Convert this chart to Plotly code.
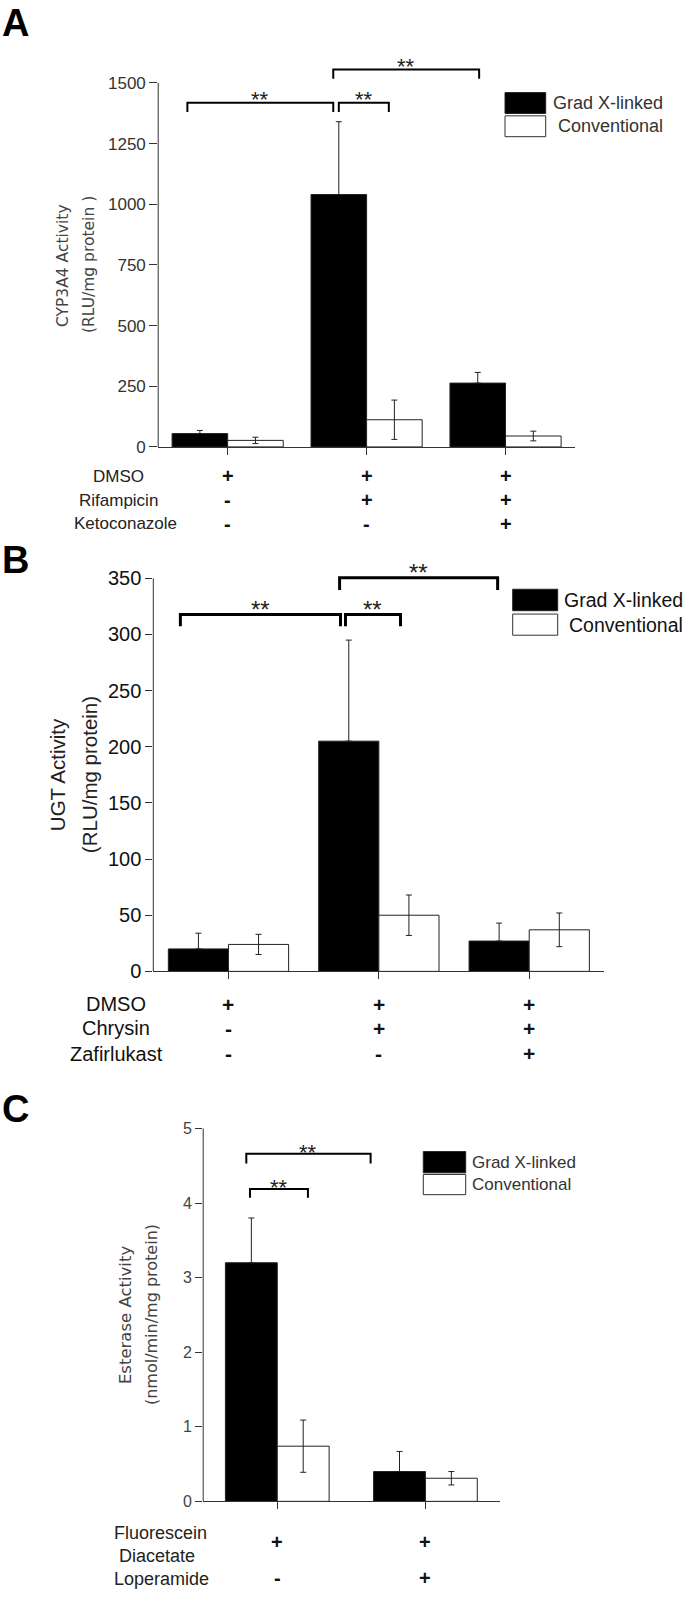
import plotly.graph_objects as go

W, H = 685, 1601

# ---------------- data ----------------
series_names = ["Grad X-linked", "Conventional"]

a_groups = [0, 1, 2]
a_grad = [55, 1040, 263]
a_grad_err = [13, 300, 44]
a_conv = [27, 112, 45]
a_conv_err = [13, 81, 20]
a_ticks = [0, 250, 500, 750, 1000, 1250, 1500]
a_rows = ["DMSO", "Rifampicin", "Ketoconazole"]
a_marks = [["+", "+", "+"], ["-", "+", "+"], ["-", "-", "+"]]

b_groups = [0, 1, 2]
b_grad = [20, 205, 27]
b_grad_err = [14, 90, 16]
b_conv = [24, 50, 37]
b_conv_err = [9, 18, 15]
b_ticks = [0, 50, 100, 150, 200, 250, 300, 350]
b_rows = ["DMSO", "Chrysin", "Zafirlukast"]
b_marks = [["+", "+", "+"], ["-", "+", "+"], ["-", "-", "+"]]

c_groups = [0, 1]
c_grad = [3.2, 0.40]
c_grad_err = [0.6, 0.27]
c_conv = [0.74, 0.31]
c_conv_err = [0.35, 0.09]
c_ticks = [0, 1, 2, 3, 4, 5]
c_rows = ["Fluorescein", "Diacetate", "Loperamide"]
c_marks = [["+", "+"], ["-", "+"]]

# significance brackets: (x_left, x_right, y_top, y_leg) in data units
a_brackets = [(-0.29, 0.76, 1418, 1380), (0.80, 1.16, 1418, 1380), (0.76, 1.81, 1555, 1517)]
b_brackets = [(-0.32, 0.745, 317.7, 307.3), (0.778, 1.144, 317.7, 307.3), (0.739, 1.79, 350.6, 339.7)]
c_brackets = [(-0.209, 0.63, 4.66, 4.53), (-0.184, 0.207, 4.19, 4.07)]

FONT = "Arial, 'Liberation Sans', sans-serif"
LIGHT = "'DejaVu Sans', sans-serif"

fig = go.Figure()
shapes = []
annotations = []


def px(x):
    return x / W


def py(y):
    return 1 - y / H


def add_panel(n, groups, grad, gerr, conv, cerr, bw, ticks, ymax_axis, yrange,
              xpix, ypix, tickfont, tickcolor, ticklen, brackets, bracket_w, star_size, star_shift):
    xa = "x" if n == 1 else f"x{n}"
    ya = "y" if n == 1 else f"y{n}"
    zeros = [0] * len(groups)
    for vals, errs, errm, fill, off, name in [(grad, gerr, zeros, "black", -bw, series_names[0]),
                                              (conv, cerr, cerr, "white", 0.0, series_names[1])]:
        fig.add_trace(go.Bar(
            x=groups, y=vals, width=bw, offset=off, name=name, showlegend=False,
            marker=dict(color=fill, line=dict(color="#222", width=1)),
            error_y=dict(type="data", array=errs, arrayminus=errm, symmetric=False, visible=True,
                         color="#222", thickness=1, width=3),
            xaxis=xa, yaxis=ya, hoverinfo="skip"))
    for (x0, x1, yt, yl) in brackets:
        fig.add_trace(go.Scatter(x=[x0, x0, x1, x1], y=[yl, yt, yt, yl], mode="lines",
                                 line=dict(color="black", width=bracket_w), showlegend=False,
                                 xaxis=xa, yaxis=ya, hoverinfo="skip"))
        annotations.append(dict(x=(x0 + x1) / 2, y=yt, xref=xa, yref=ya, text="**", showarrow=False,
                                font=dict(family=FONT, size=star_size, color="#222"),
                                xanchor="center", yanchor="middle", yshift=star_shift))
    nx = len(groups)
    xkey = "xaxis" if n == 1 else f"xaxis{n}"
    ykey = "yaxis" if n == 1 else f"yaxis{n}"
    fig.update_layout(**{
        xkey: dict(domain=[px(xpix[0]), px(xpix[1])], range=[-0.5, nx - 0.5], anchor=ya,
                   showline=True, linecolor="#333", linewidth=1, ticks="outside",
                   tickvals=groups, ticklen=7, tickcolor="#333", tickwidth=1,
                   showticklabels=False, showgrid=False, zeroline=False),
        ykey: dict(domain=[py(ypix[1]), py(ypix[0])], range=yrange, anchor=xa,
                   showline=False, ticks="outside", tickvals=ticks, ticklen=ticklen,
                   tickcolor="#333", tickwidth=1, tickfont=dict(family=FONT, size=tickfont, color=tickcolor),
                   showgrid=False, zeroline=False),
    })
    shapes.append(dict(type="line", xref="paper", yref=ya, x0=px(xpix[0]), x1=px(xpix[0]),
                       y0=0, y1=ymax_axis, line=dict(color="#333", width=1)))


# panel A: plot x 158.2..575, y: 0 at 449.3, 1500 at 82.5
a_scale = (449.3 - 82.5) / 1500
a_top = 1620
add_panel(1, a_groups, a_grad, a_grad_err, a_conv, a_conv_err, 0.4, a_ticks, 1500, [0, a_top],
          (158.2, 575), (449.3 - a_top * a_scale, 449.3), 17, "#333", 8, a_brackets, 2, 22, 3)

# panel B: plot x 153.3..604.4, y: 0 at 977.7, 350 at 581.7
b_scale = (977.7 - 581.7) / 350
b_top = 365
add_panel(2, b_groups, b_grad, b_grad_err, b_conv, b_conv_err, 0.4, b_ticks, 350, [0, b_top],
          (153.3, 604.4), (977.7 - b_top * b_scale, 977.7), 20, "#111", 7, b_brackets, 3, 24, 5)

# panel C: plot x 203.2..499.5, y: 0 at 1511.7, 5 at 1136
c_scale = (1511.7 - 1136) / 5
c_top = 5.1
add_panel(3, c_groups, c_grad, c_grad_err, c_conv, c_conv_err, 0.35, c_ticks, 5, [0, c_top],
          (203.2, 499.5), (1511.7 - c_top * c_scale, 1511.7), 16, "#444", 7, c_brackets, 2, 22, 1)


def text(x, y, s, size, color="#222", family=FONT, xanchor="center", angle=0, weight="normal",
         yanchor="middle"):
    annotations.append(dict(x=px(x), y=py(y), xref="paper", yref="paper", text=s, showarrow=False,
                            font=dict(family=family, size=size, color=color, weight=weight),
                            xanchor=xanchor, yanchor=yanchor, textangle=angle, borderpad=0))


# panel letters
text(15, 0, "A", 38, "black", weight="bold", yanchor="top")
text(15, 563, "B", 38, "black", weight="bold")
text(15, 1116, "C", 38, "black", weight="bold")

# axis titles
text(63, 266, "CYP3A4 Activity", 15.5, "#444", LIGHT, angle=-90)
text(89, 266, "(RLU/mg protein )", 15.5, "#444", LIGHT, angle=-90)
text(57, 780, "UGT Activity", 20.5, "#222", angle=-90)
text(89, 780, "(RLU/mg protein)", 20.5, "#222", angle=-90)
text(125, 1324, "Esterase Activity", 16.5, "#444", LIGHT, angle=-90)
text(151, 1324, "(nmol/min/mg protein)", 16, "#444", LIGHT, angle=-90)

# legends: (box left, box right, black top, black bottom, white top, white bottom, text x1, text x2, font)
legends = [
    (505, 545.7, 92.3, 113.3, 115.7, 136.7, 551.7, 557, 18, "#333"),
    (512.7, 557.7, 592.7, 614.3, 617.7, 639, 562.7, 568.3, 19.5, "#111"),
    (423.3, 465.7, 1159.3, 1180.7, 1182.3, 1202.7, 470.7, 470.7, 17, "#333"),
]
for (l, r, bt, bb, wt, wb, tx1, tx2, fs, col) in legends:
    shapes.append(dict(type="rect", xref="paper", yref="paper", x0=px(l), x1=px(r), y0=py(bb), y1=py(bt),
                       fillcolor="black", line=dict(color="#222", width=1)))
    shapes.append(dict(type="rect", xref="paper", yref="paper", x0=px(l), x1=px(r), y0=py(wb), y1=py(wt),
                       fillcolor="white", line=dict(color="#333", width=1)))
    text(tx1, (bt + bb) / 2, series_names[0], fs, col, xanchor="left")
    text(tx2, (wt + wb) / 2, series_names[1], fs, col, xanchor="left")

# condition rows
a_row_y = [479, 503, 526.5]
a_row_x = [118, 118, 126]
for i, lab in enumerate(a_rows):
    text(a_row_x[i], a_row_y[i], lab, 17, "#222")
    for j, m in enumerate(a_marks[i]):
        annotations.append(dict(x=a_groups[j], y=py(a_row_y[i]), xref="x", yref="paper", text=m,
                                showarrow=False, font=dict(family=FONT, size=20, color="#111", weight="bold"),
                                xanchor="center", yanchor="middle"))

b_row_y = [1011, 1035, 1060.5]
for i, lab in enumerate(b_rows):
    text(116, b_row_y[i], lab, 20, "#111")
    for j, m in enumerate(b_marks[i]):
        annotations.append(dict(x=b_groups[j], y=py(b_row_y[i]), xref="x2", yref="paper", text=m,
                                showarrow=False, font=dict(family=FONT, size=21, color="#111", weight="bold"),
                                xanchor="center", yanchor="middle"))

text(113, 1543.3, c_rows[0], 18, "#222", xanchor="left")
text(118, 1566.7, c_rows[1], 18, "#222", xanchor="left")
text(113, 1590, c_rows[2], 18, "#222", xanchor="left")
c_mark_y = [1553, 1588.5]
for i in range(2):
    for j, m in enumerate(c_marks[i]):
        annotations.append(dict(x=c_groups[j], y=py(c_mark_y[i]), xref="x3", yref="paper", text=m,
                                showarrow=False, font=dict(family=FONT, size=20, color="#111", weight="bold"),
                                xanchor="center", yanchor="middle"))

fig.update_layout(
    width=W, height=H, autosize=False,
    margin=dict(l=0, r=0, t=0, b=0),
    paper_bgcolor="white", plot_bgcolor="white",
    barmode="overlay",
    showlegend=False,
    shapes=shapes,
    annotations=annotations,
)

fig.write_html("out.html", config={"displayModeBar": False},
               post_script="document.body.style.margin='0';")
